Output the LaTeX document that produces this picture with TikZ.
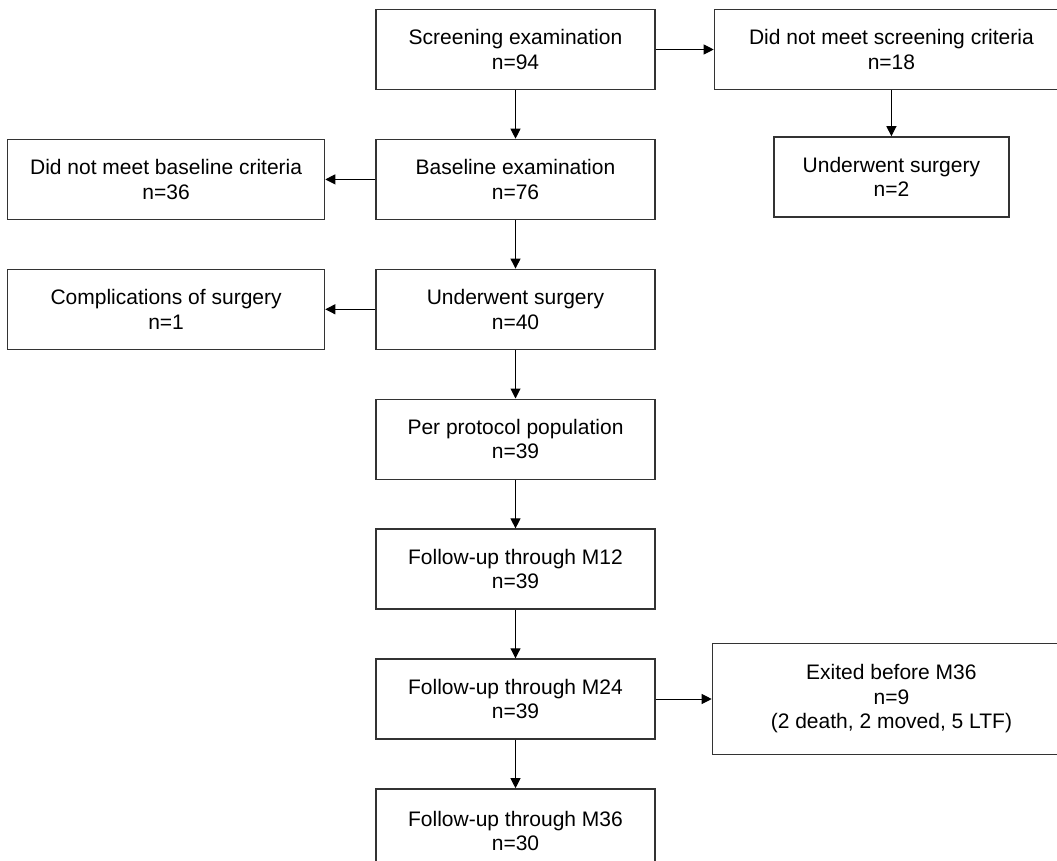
\documentclass[tikz,border=0pt]{standalone}
\usepackage{fontspec}
\setmainfont{Liberation Sans}
\usetikzlibrary{arrows.meta, positioning}

\begin{document}
\begin{tikzpicture}[x=1pt, y=1pt, >={Triangle[length=10pt,width=10pt]}, node distance=48.5pt and 50pt,
    box/.style={draw=black!80, line width=1.4pt, align=center, minimum height=80pt, inner sep=4pt,
        font=\fontsize{21}{24.5}\selectfont},
    flow/.style={->, line width=1pt}]
    \clip (0,0) rectangle (1057,-861);
    % main column
    \node[box, minimum width=279pt] (scr) at (515.5,-49.5) {Screening examination\\n=94};
    \node[box, minimum width=279pt, below=of scr] (base) {Baseline examination\\n=76};
    \node[box, minimum width=279pt, below=of base] (surg) {Underwent surgery\\n=40};
    \node[box, minimum width=279pt, below=of surg] (pp) {Per protocol population\\n=39};
    \node[box, minimum width=279pt, below=of pp] (m12) {Follow-up through M12\\n=39};
    \node[box, minimum width=279pt, below=of m12] (m24) {Follow-up through M24\\n=39};
    \node[box, minimum width=279pt, minimum height=84pt, below=of m24] (m36) {Follow-up through M36\\n=30};
    % side boxes
    \node[box, minimum width=317pt, left=of base] (basex) {Did not meet baseline criteria\\n=36};
    \node[box, minimum width=317pt, left=of surg] (compl) {Complications of surgery\\n=1};
    \node[box, minimum width=354pt, right=58pt of scr] (scrx) {Did not meet screening criteria\\n=18};
    \node[box, minimum width=235pt, below=46pt of scrx] (scrsurg) {Underwent surgery\\n=2};
    \node[box, minimum width=358pt, minimum height=111pt, right=56pt of m24] (exit) {Exited before M36\\n=9\\(2 death, 2 moved, 5 LTF)};
    \draw[flow] (scr) -- (base);
    \draw[flow] (base) -- (surg);
    \draw[flow] (surg) -- (pp);
    \draw[flow] (pp) -- (m12);
    \draw[flow] (m12) -- (m24);
    \draw[flow] (m24) -- (m36);
    \draw[flow] (scr) -- (scrx);
    \draw[flow] (scrx) -- (scrsurg);
    \draw[flow] (base) -- (basex);
    \draw[flow] (surg) -- (compl);
    \draw[flow] (m24) -- (exit);
\end{tikzpicture}
\end{document}
